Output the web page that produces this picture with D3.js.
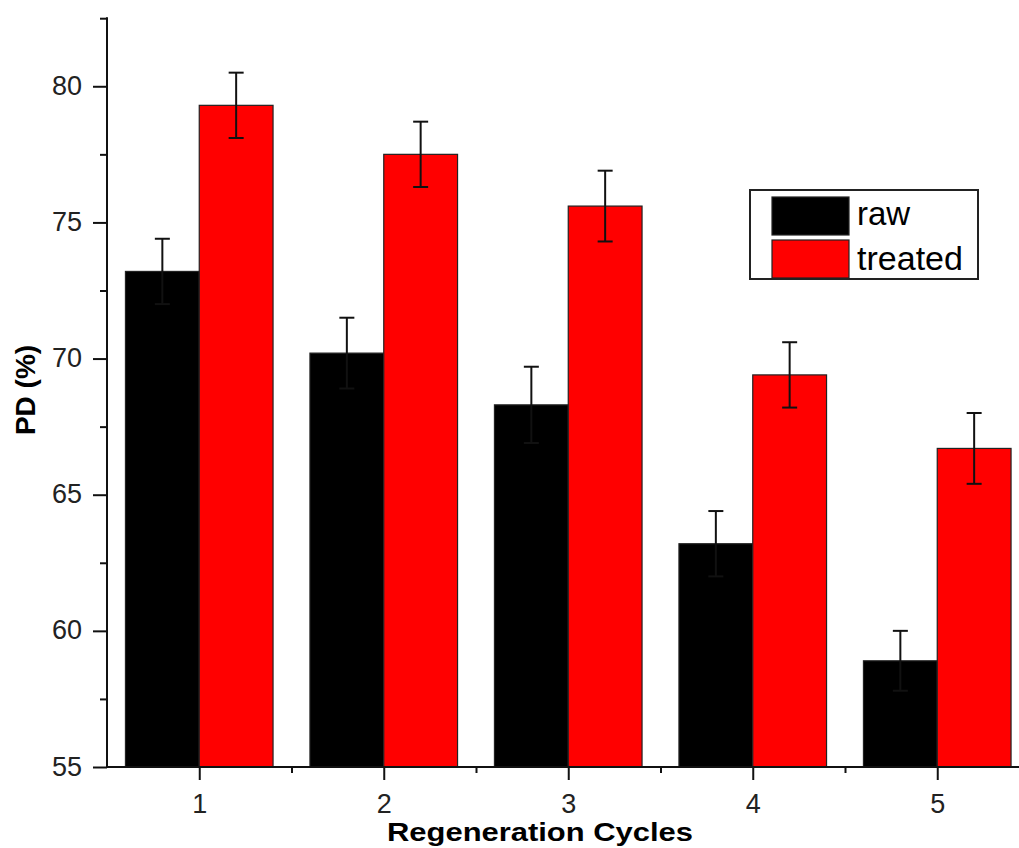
<!DOCTYPE html>
<html>
<head>
<meta charset="utf-8">
<script src="https://cdn.jsdelivr.net/npm/d3@7"></script>
<style>
  html, body { margin: 0; padding: 0; background: #fff; overflow: hidden; }
  svg { display: block; font-family: "Liberation Sans", Arial, sans-serif; }
</style>
</head>
<body>
<svg id="chart" width="1019" height="848"></svg>
<script>
const categories = [1, 2, 3, 4, 5];
const seriesNames = ["raw", "treated"];
const rawValues = [73.2, 70.2, 68.3, 63.2, 58.9];
const rawErrors = [1.2, 1.3, 1.4, 1.2, 1.1];
const treatedValues = [79.3, 77.5, 75.6, 69.4, 66.7];
const treatedErrors = [1.2, 1.2, 1.3, 1.2, 1.3];
const yTicks = [55, 60, 65, 70, 75, 80];
const yMinorTicks = [57.5, 62.5, 67.5, 72.5, 77.5, 82.5];
const xMinorTicks = [1.5, 2.5, 3.5, 4.5, 5.5];
const colors = ["#000000", "#ff0000"];
const xTitle = "Regeneration Cycles";
const yTitle = "PD (%)";

const svg = d3.select("#chart");
const x = d3.scaleLinear().domain([0.5, 5.5]).range([107, 1029.5]);
const y = d3.scaleLinear().domain([55, 82.5]).range([767, 18.2]);
const unit = x(1) - x(0);
const barW = 0.4 * unit;

const series = [
  { name: seriesNames[0], values: rawValues, errors: rawErrors, color: colors[0], offset: -1 },
  { name: seriesNames[1], values: treatedValues, errors: treatedErrors, color: colors[1], offset: 0 }
];

// Bars
series.forEach(s => {
  const g = svg.append("g");
  g.selectAll("rect").data(categories).enter().append("rect")
    .attr("x", (d) => x(d) + s.offset * barW)
    .attr("y", (d, i) => y(s.values[i]))
    .attr("width", barW)
    .attr("height", (d, i) => y(55) - y(s.values[i]))
    .attr("fill", s.color)
    .attr("stroke", "#222")
    .attr("stroke-width", 1.2);
});

// Error bars
series.forEach(s => {
  const g = svg.append("g").attr("stroke", "#111").attr("stroke-width", 2);
  categories.forEach((d, i) => {
    const cx = x(d) + s.offset * barW + barW / 2;
    const hi = y(s.values[i] + s.errors[i]);
    const lo = y(s.values[i] - s.errors[i]);
    g.append("line").attr("x1", cx).attr("x2", cx).attr("y1", hi).attr("y2", lo);
    g.append("line").attr("x1", cx - 7.5).attr("x2", cx + 7.5).attr("y1", hi).attr("y2", hi);
    g.append("line").attr("x1", cx - 7.5).attr("x2", cx + 7.5).attr("y1", lo).attr("y2", lo);
  });
});

// Y axis
const yAxis = svg.append("g").attr("transform", "translate(107,0)")
  .call(d3.axisLeft(y).tickValues(yTicks).tickSize(14).tickPadding(11).tickFormat(d3.format("d")));
yAxis.select(".domain").attr("stroke", "#111").attr("stroke-width", 2).attr("d", `M0,${y(82.5)-1}V${y(55)+1}`);
yAxis.selectAll(".tick line").attr("stroke", "#111").attr("stroke-width", 2);
yAxis.selectAll(".tick text").attr("font-size", 27).attr("fill", "#222")
  .attr("font-family", "Liberation Sans, Arial, sans-serif").attr("dy", "0.3em");
const yMinor = svg.append("g").attr("transform", "translate(107,0)")
  .call(d3.axisLeft(y).tickValues(yMinorTicks).tickSize(7).tickFormat(""));
yMinor.select(".domain").remove();
yMinor.selectAll(".tick line").attr("stroke", "#111").attr("stroke-width", 2);

// X axis
const xAxis = svg.append("g").attr("transform", "translate(0,767)")
  .call(d3.axisBottom(x).tickValues(categories).tickSize(13).tickPadding(14).tickFormat(d3.format("d")));
xAxis.select(".domain").attr("stroke", "#111").attr("stroke-width", 2).attr("d", `M${x(0.5)-1},0H${x(5.5)}`);
xAxis.selectAll(".tick line").attr("stroke", "#111").attr("stroke-width", 2);
xAxis.selectAll(".tick text").attr("font-size", 27).attr("fill", "#222")
  .attr("font-family", "Liberation Sans, Arial, sans-serif");
const xMinor = svg.append("g").attr("transform", "translate(0,767)")
  .call(d3.axisBottom(x).tickValues(xMinorTicks).tickSize(6).tickFormat(""));
xMinor.select(".domain").remove();
xMinor.selectAll(".tick line").attr("stroke", "#111").attr("stroke-width", 2);

// Axis titles
svg.append("text")
  .attr("x", 540).attr("y", 841)
  .attr("text-anchor", "middle")
  .attr("font-size", 26).attr("font-weight", "bold").attr("fill", "#000")
  .attr("textLength", 306).attr("lengthAdjust", "spacingAndGlyphs")
  .text(xTitle);
svg.append("text")
  .attr("transform", "translate(35,390) rotate(-90)")
  .attr("text-anchor", "middle")
  .attr("font-size", 28).attr("font-weight", "bold").attr("fill", "#000")
  .text(yTitle);

// Legend
const lg = svg.append("g");
lg.append("rect").attr("x", 750).attr("y", 190).attr("width", 228).attr("height", 89)
  .attr("fill", "#fff").attr("stroke", "#222").attr("stroke-width", 2);
series.forEach((s, i) => {
  lg.append("rect").attr("x", 772).attr("y", 197 + i * 43).attr("width", 77).attr("height", 38)
    .attr("fill", s.color).attr("stroke", "#222").attr("stroke-width", 1.2);
  lg.append("text").attr("x", 857).attr("y", 225 + i * 45)
    .attr("font-size", 33).attr("fill", "#000")
    .attr("textLength", i === 1 ? 106 : null).attr("lengthAdjust", "spacingAndGlyphs")
    .text(s.name);
});
</script>
</body>
</html>
